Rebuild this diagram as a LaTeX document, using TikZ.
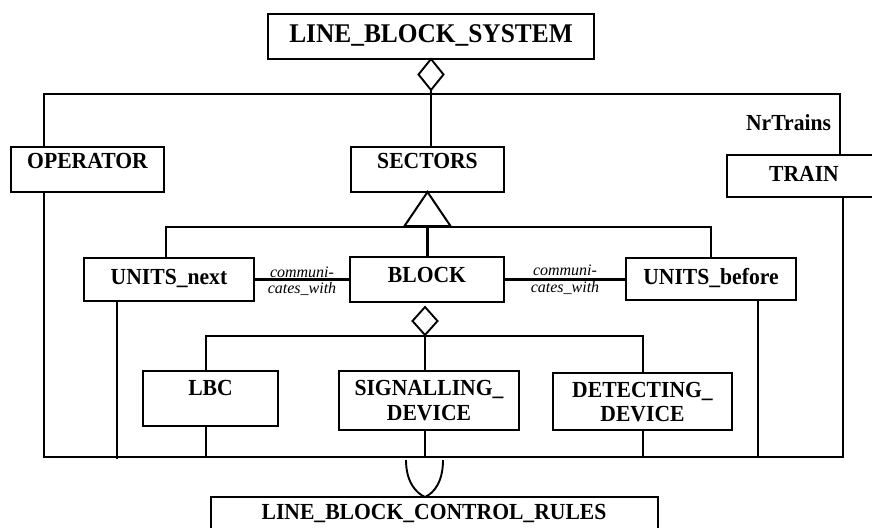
\documentclass[tikz,border=0pt]{standalone}
\usepackage{fontspec}
\setmainfont{Liberation Serif}[FakeStretch=0.94]
\newfontfamily\italfont{Liberation Serif}
\usetikzlibrary{shapes.geometric}

\begin{document}
\begin{tikzpicture}[x=1pt,y=-1pt,
  every node/.style={inner sep=0pt, outer sep=0pt},
  box/.style={draw, line width=2pt, rectangle},
  txt/.style={font=\fontsize{23}{25}\selectfont\bfseries, anchor=base},
  title/.style={font=\fontsize{27}{29}\selectfont\bfseries, anchor=base},
  assoctxt/.style={font=\italfont\itshape\fontsize{16}{18}\selectfont, anchor=base},
  link/.style={line width=2.3pt},
  aggr/.style={diamond, draw, line width=1.9pt, fill=white, inner sep=0pt},
]
\useasboundingbox (0,0) rectangle (872,527);
\clip (0,0) rectangle (872,527);
\fill[white] (0,0) rectangle (872,527);

% classes
\node[box, minimum width=326pt, minimum height=45pt] (lbs) at (431,36.5) {};
\node[box, minimum width=153pt, minimum height=45pt] (operator) at (87.5,169.5) {};
\node[box, minimum width=153pt, minimum height=45pt] (sectors) at (427.5,169.5) {};
\node[box, minimum width=158pt, minimum height=42pt] (train) at (806,176) {};
\node[box, minimum width=170pt, minimum height=43pt] (unext) at (169,279.5) {};
\node[box, minimum width=154pt, minimum height=45pt] (block) at (427,279.5) {};
\node[box, minimum width=170pt, minimum height=42pt] (ubefore) at (711,279) {};
\node[box, minimum width=135pt, minimum height=55pt] (lbc) at (210.5,398.5) {};
\node[box, minimum width=180pt, minimum height=59pt] (sig) at (429,400.5) {};
\node[box, minimum width=179pt, minimum height=57pt] (det) at (642.5,401.5) {};
\node[box, minimum width=447pt, minimum height=53pt] (lbcr) at (434.5,523.5) {};

% class names
\node[title] (lbsT) at (431,42) {LINE\_BLOCK\_SYSTEM};
\node[txt] (operatorT) at (87.5,168) {OPERATOR};
\node[txt] (sectorsT) at (427.5,168) {SECTORS};
\node[txt, anchor=base east] (nrtrains) at (831,130) {NrTrains};
\node[txt] (trainT) at (804,181) {TRAIN};
\node[txt] (unextT) at (169,284) {UNITS\_next};
\node[txt] (blockT) at (427,282) {BLOCK};
\node[txt] (ubeforeT) at (711,284) {UNITS\_before};
\node[txt] (lbcT) at (210.5,395) {LBC};
\node[txt] (sigT1) at (429,395) {SIGNALLING\_};
\node[txt] (sigT2) at (429,420) {DEVICE};
\node[txt] (detT1) at (642.5,397) {DETECTING\_};
\node[txt] (detT2) at (642.5,421) {DEVICE};
\node[txt] (lbcrT) at (434,519) {LINE\_BLOCK\_CONTROL\_RULES};

% association labels
\node[assoctxt] (as1a) at (302,277) {communi-};
\node[assoctxt] (as1b) at (302,293) {cates\_with};
\node[assoctxt] (as2a) at (565,275) {communi-};
\node[assoctxt] (as2b) at (565,292) {cates\_with};

% bus points
\coordinate (topbus) at (430,94);
\coordinate (genbus) at (427.5,227);
\coordinate (partbus) at (425,336);
\coordinate (lowbus) at (425,457);

% aggregation of the system
\node[aggr, minimum width=25pt, minimum height=31pt, anchor=north] (agg1) at (lbs.south) {};
\draw[link] (agg1.south) -- (agg1.south |- sectors.north);
\draw[link] ([xshift=-43.5pt]operator.north) |- (topbus) -| ([xshift=34pt]train.north);

% generalisation of sectors
\coordinate (genbase) at ([yshift=-34pt]sectors.south);
\draw[link] (genbase) -- (genbase |- block.north);
\draw[link] ([xshift=-3pt]unext.north) |- (genbus) -| (ubefore.north);
\draw[line width=2pt, fill=white, line join=miter] (sectors.south) -- ++(-23,34) -- ++(46,0) -- cycle;

% associations between blocks
\draw[link] (unext.east) -- (block.west);
\draw[link] (block.east) -- (block.east -| ubefore.west);

% aggregation of the block
\node[aggr, minimum width=25pt, minimum height=28pt] (agg2) at (425,321) {};
\draw[link] (agg2.south) -- ([xshift=-4pt]sig.north);
\draw[link] ([xshift=-4.5pt]lbc.north) |- (partbus) -| ([xshift=0.5pt]det.north);

% lower bus to the control rules
\draw[link] ([xshift=-43.5pt]operator.south) |- (lowbus) -| ([xshift=37pt]train.south);
\draw[link] ([xshift=-52pt]unext.south) -- ++(0,158);
\draw[link] ([xshift=-4.5pt]lbc.south) |- (lowbus);
\draw[link] ([xshift=-4pt]sig.south) -- (lowbus);
\draw[link] ([xshift=0.5pt]det.south) |- (lowbus);
\draw[link] ([xshift=47pt]ubefore.south) |- (lowbus);

\coordinate (cupL) at (406,460);
\coordinate (cupR) at (443,460);
\coordinate (cupB) at ([xshift=-9.5pt]lbcr.north);
\draw[line width=1.9pt] (cupL) .. controls (406,482) and (416,493) .. (cupB)
  .. controls (434,493) and (443,482) .. (cupR);
\end{tikzpicture}
\end{document}
